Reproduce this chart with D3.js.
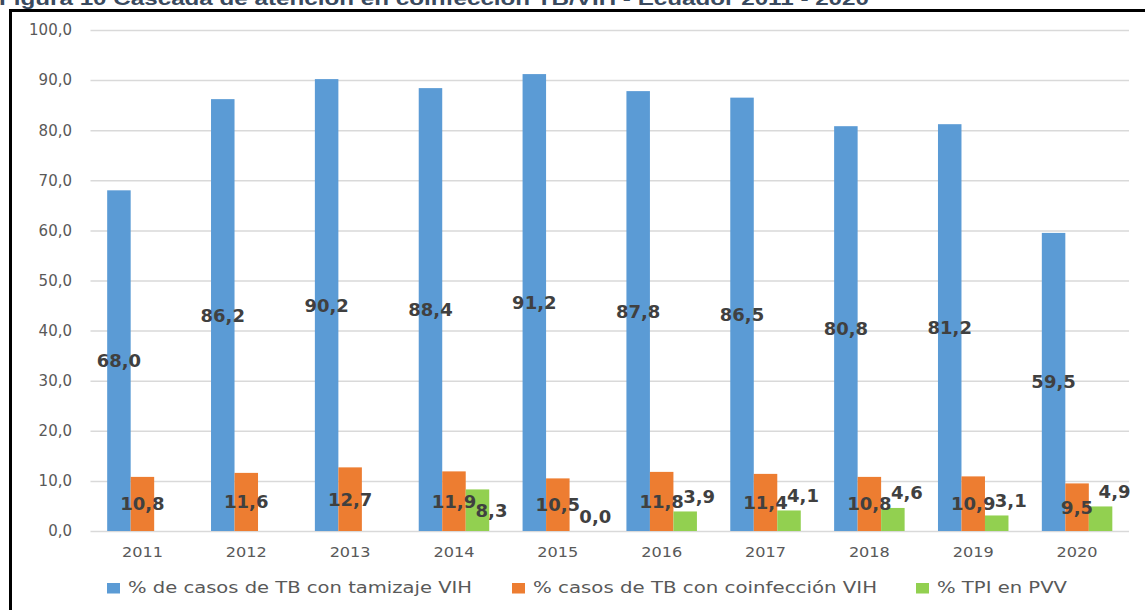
<!DOCTYPE html>
<html>
<head>
<meta charset="utf-8">
<script src="https://cdn.jsdelivr.net/npm/d3@7"></script>
<style>
  body { margin: 0; background: #fff; }
  svg { display: block; }
</style>
</head>
<body>
<svg id="chart" width="1145" height="610"></svg>
<script>
// ---- data ----
const years = ["2011", "2012", "2013", "2014", "2015", "2016", "2017", "2018", "2019", "2020"];
const tamizajeVIH = [68.0, 86.2, 90.2, 88.4, 91.2, 87.8, 86.5, 80.8, 81.2, 59.5];
const coinfeccionVIH = [10.8, 11.6, 12.7, 11.9, 10.5, 11.8, 11.4, 10.8, 10.9, 9.5];
const tpiPVV = [null, null, null, 8.3, 0.0, 3.9, 4.1, 4.6, 3.1, 4.9];
const seriesNames = [
  "% de casos de TB con tamizaje VIH",
  "% casos de TB con coinfección VIH",
  "% TPI en PVV"
];
const yTickValues = [0, 10, 20, 30, 40, 50, 60, 70, 80, 90, 100];
const titleText = "Figura 10 Cascada de atención en coinfección TB/VIH - Ecuador 2011 - 2020";

// ---- styles ----
const colors = ["#5b9bd5", "#ed7d31", "#92d050"];
const series = [tamizajeVIH, coinfeccionVIH, tpiPVV];
const fmt = v => d3.format(".1f")(v).replace(".", ",");

const svg = d3.select("#chart");
const plot = { left: 90.5, right: 1129, top: 30, bottom: 531 };

const x = d3.scaleBand().domain(years).range([plot.left, plot.right]).padding(0);
const groupHalf = 35.25;
const xs = d3.scaleBand().domain(d3.range(series.length))
  .range([x.bandwidth() / 2 - groupHalf, x.bandwidth() / 2 + groupHalf]).padding(0);
const y = d3.scaleLinear().domain([0, 100]).range([plot.bottom, plot.top]);

// title (sits partly above the frame)
svg.append("text")
  .attr("x", -1).attr("y", 4.5)
  .attr("textLength", 870).attr("lengthAdjust", "spacingAndGlyphs")
  .style("font-family", "Liberation Sans, Arial, sans-serif")
  .style("font-weight", "bold").style("font-size", "18px")
  .attr("fill", "#3a4a5e")
  .text(titleText);

// frame
svg.append("rect")
  .attr("x", 10.5).attr("y", 10.5).attr("width", 1300).attr("height", 800)
  .attr("fill", "none").attr("stroke", "#000").attr("stroke-width", 3);

// gridlines + y labels
const yAxis = svg.append("g")
  .attr("transform", `translate(${plot.left},0)`)
  .call(d3.axisLeft(y).tickValues(yTickValues).tickFormat(fmt)
    .tickSize(-(plot.right - plot.left)).tickPadding(18.5));
yAxis.select(".domain").remove();
yAxis.selectAll(".tick line").attr("stroke", "#d9d9d9").attr("stroke-width", 1.5);
yAxis.selectAll(".tick text")
  .attr("fill", "#595959")
  .style("font-family", "DejaVu Sans, sans-serif").style("font-size", "15px");

// x labels
const xAxis = svg.append("g")
  .attr("transform", `translate(0,${plot.bottom})`)
  .call(d3.axisBottom(x).tickSize(0).tickPadding(0));
xAxis.select(".domain").remove();
xAxis.selectAll(".tick text")
  .attr("y", 26).attr("dy", null)
  .attr("textLength", 41).attr("lengthAdjust", "spacingAndGlyphs")
  .attr("fill", "#595959")
  .style("font-family", "DejaVu Sans, sans-serif").style("font-size", "14px");

// bars
const groups = svg.append("g").selectAll("g")
  .data(years).join("g")
  .attr("transform", d => `translate(${x(d)},0)`);

series.forEach((vals, si) => {
  groups.filter((d, i) => vals[i] !== null)
    .append("rect")
    .attr("x", xs(si))
    .attr("width", xs.bandwidth())
    .attr("y", (d) => y(vals[years.indexOf(d)]))
    .attr("height", (d) => y(0) - y(vals[years.indexOf(d)]))
    .attr("fill", colors[si]);
});

// value labels
const labelStyle = sel => sel
  .attr("text-anchor", "middle")
  .attr("fill", "#404040")
  .style("font-family", "DejaVu Sans, sans-serif")
  .style("font-weight", "bold").style("font-size", "18px");

series.forEach((vals, si) => {
  groups.filter((d, i) => vals[i] !== null)
    .append("text")
    .call(labelStyle)
    .attr("x", d => {
      const cx = xs(si) + xs.bandwidth() / 2;
      return si === 2 ? cx + 14 : cx;
    })
    .attr("y", d => {
      const v = vals[years.indexOf(d)];
      const top = y(v), mid = (y(v) + y(0)) / 2;
      // short TPI bars get their label above the bar
      if (si === 2 && y(0) - top < 30) return top - 15 + 6.5;
      return mid + 6.5;
    })
    .text(d => fmt(vals[years.indexOf(d)]));
});

// legend
const legendX = [107, 512, 916];
const legendW = [344, 344, 130];
const legend = svg.append("g");
seriesNames.forEach((name, i) => {
  legend.append("rect")
    .attr("x", legendX[i]).attr("y", 583)
    .attr("width", 13).attr("height", 10.5)
    .attr("fill", colors[i]);
  legend.append("text")
    .attr("x", legendX[i] + 21).attr("y", 593)
    .attr("textLength", legendW[i]).attr("lengthAdjust", "spacingAndGlyphs")
    .attr("fill", "#595959")
    .style("font-family", "DejaVu Sans, sans-serif").style("font-size", "16.5px")
    .text(name);
});
</script>
</body>
</html>
